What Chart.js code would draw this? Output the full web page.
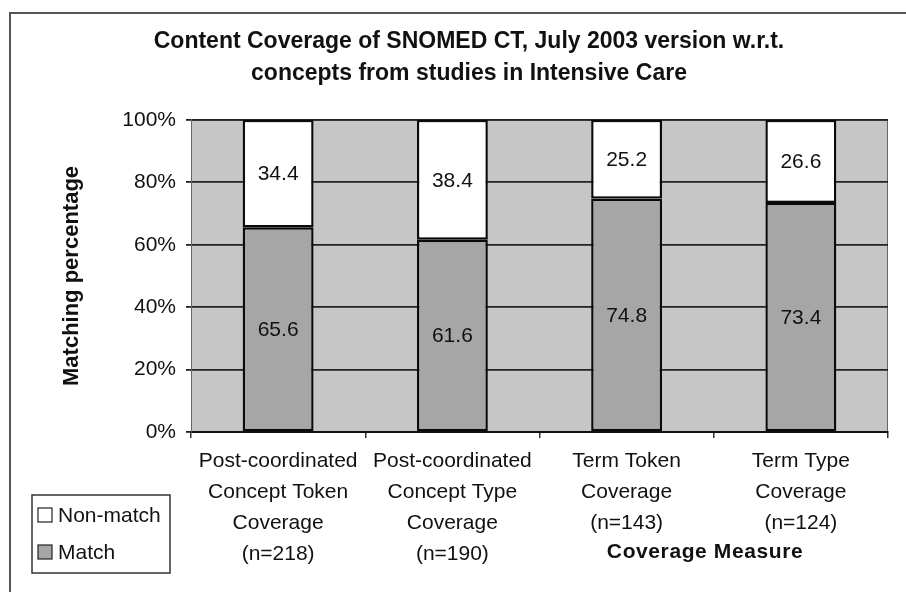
<!DOCTYPE html>
<html>
<head>
<meta charset="utf-8">
<title>Content Coverage of SNOMED CT</title>
<script src="https://cdn.jsdelivr.net/npm/chart.js@4.4.1/dist/chart.umd.min.js"></script>
<style>
	html, body { margin: 0; padding: 0; background: #fff; }
	#coverageChart { display: block; }
</style>
</head>
<body>
<canvas id="coverageChart" width="906" height="592"></canvas>
<script>
// data
const categories = [
	["Post-coordinated", "Concept Token", "Coverage", "(n=218)"],
	["Post-coordinated", "Concept Type", "Coverage", "(n=190)"],
	["Term Token", "Coverage", "(n=143)"],
	["Term Type", "Coverage", "(n=124)"],
];
const matchValues = [65.6, 61.6, 74.8, 73.4];
const nonMatchValues = [34.4, 38.4, 25.2, 26.6];
const yTickValues = [0, 20, 40, 60, 80, 100];

const titleLines = [
	"Content Coverage of SNOMED CT, July 2003 version w.r.t.",
	"concepts from studies in Intensive Care",
];
const yTitle = "Matching percentage";
const xTitle = "Coverage Measure";

const FONT = "'Liberation Sans', Arial, sans-serif";
const INK = "#111";

// white page with the scanned frame line on top/left, grey plot area behind the grid
const backdrop = {
	id: "backdrop",
	beforeDraw(chart) {
		const { ctx, chartArea: a } = chart;
		ctx.save();
		ctx.fillStyle = "#fff";
		ctx.fillRect(0, 0, chart.width, chart.height);
		ctx.strokeStyle = "#555";
		ctx.lineWidth = 2;
		ctx.beginPath();
		ctx.moveTo(10, chart.height);
		ctx.lineTo(10, 13);
		ctx.lineTo(chart.width, 13);
		ctx.stroke();
		ctx.fillStyle = "#c6c6c6";
		ctx.fillRect(a.left, a.top, a.right - a.left, a.bottom - a.top);
		ctx.strokeStyle = "#666";
		ctx.lineWidth = 1;
		ctx.strokeRect(a.left + 0.5, a.top + 0.5, a.right - a.left - 1, a.bottom - a.top - 1);
		ctx.restore();
	},
};

// numbers in the middle of each segment + x title + boxed legend
const annotations = {
	id: "annotations",
	afterDraw(chart) {
		const { ctx } = chart;
		ctx.save();
		ctx.fillStyle = INK;
		ctx.font = `21px ${FONT}`;
		ctx.textAlign = "center";
		ctx.textBaseline = "middle";
		chart.data.datasets.forEach((ds, di) => {
			chart.getDatasetMeta(di).data.forEach((bar, i) => {
				const { x, y, base } = bar.getProps(["x", "y", "base"], true);
				ctx.fillText(ds.data[i].toFixed(1), x, (y + base) / 2 + 1);
			});
		});

		// x axis title sits on the last label line, right of centre
		const xs = chart.scales.x;
		ctx.font = `bold 21px ${FONT}`;
		ctx.letterSpacing = "0.6px";
		ctx.fillText(xTitle, xs.getPixelForValue(2.45), 552);
		ctx.letterSpacing = "0px";

		// legend box
		ctx.strokeStyle = "#333";
		ctx.lineWidth = 1.5;
		ctx.strokeRect(32, 495, 138, 78);
		const items = [
			{ label: chart.data.datasets[1].label, fill: "#ffffff", y: 515 },
			{ label: chart.data.datasets[0].label, fill: "#a6a6a6", y: 552 },
		];
		ctx.font = `21px ${FONT}`;
		ctx.textAlign = "left";
		items.forEach((it) => {
			ctx.fillStyle = it.fill;
			ctx.fillRect(38, it.y - 7, 14, 14);
			ctx.strokeStyle = "#222";
			ctx.lineWidth = 1.2;
			ctx.strokeRect(38, it.y - 7, 14, 14);
			ctx.fillStyle = INK;
			ctx.fillText(it.label, 58, it.y + 1);
		});
		ctx.restore();
	},
};

const ctx = document.getElementById("coverageChart").getContext("2d");
new Chart(ctx, {
	type: "bar",
	data: {
		labels: categories,
		datasets: [
			{
				label: "Match",
				data: matchValues,
				backgroundColor: "#a6a6a6",
				borderColor: "#0a0a0a",
				borderWidth: 2.4,
				borderSkipped: false,
			},
			{
				label: "Non-match",
				data: nonMatchValues,
				backgroundColor: "#ffffff",
				borderColor: "#0a0a0a",
				borderWidth: 2.4,
				borderSkipped: false,
			},
		],
	},
	options: {
		responsive: false,
		animation: false,
		devicePixelRatio: 1,
		layout: { padding: { left: 50, right: 18, top: 0, bottom: 0 } },
		datasets: {
			bar: { categoryPercentage: 1, barPercentage: 0.407 },
		},
		scales: {
			x: {
				stacked: true,
				afterFit: (s) => { s.height = 160; },
				grid: {
					drawOnChartArea: false,
					tickLength: 6,
					color: "#333",
					lineWidth: 1.5,
				},
				border: { color: "#111", width: 2 },
				ticks: {
					color: INK,
					font: { family: FONT, size: 21, lineHeight: 1.476 },
					padding: 8,
					maxRotation: 0,
					autoSkip: false,
				},
			},
			y: {
				stacked: true,
				min: 0,
				max: 100,
				afterFit: (s) => { s.width = 141; },
				afterBuildTicks: (s) => {
					s.ticks = yTickValues.map((v) => ({ value: v }));
				},
				grid: {
					color: "#222",
					lineWidth: 1.8,
					tickLength: 5,
				},
				border: { color: "#666", width: 1 },
				ticks: {
					color: INK,
					font: { family: FONT, size: 21 },
					padding: 10,
					callback: (v) => `${v}%`,
				},
				title: {
					display: true,
					text: yTitle,
					color: INK,
					font: { family: FONT, size: 22, weight: "bold", lineHeight: 1.2 },
					padding: { top: 9, bottom: 0 },
				},
			},
		},
		plugins: {
			legend: { display: false },
			tooltip: { enabled: false },
			title: {
				display: true,
				text: titleLines,
				color: INK,
				font: { family: FONT, size: 23, weight: "bold", lineHeight: 1.39 },
				padding: { top: 26, bottom: 30 },
			},
		},
	},
	plugins: [backdrop, annotations],
});
</script>
</body>
</html>
